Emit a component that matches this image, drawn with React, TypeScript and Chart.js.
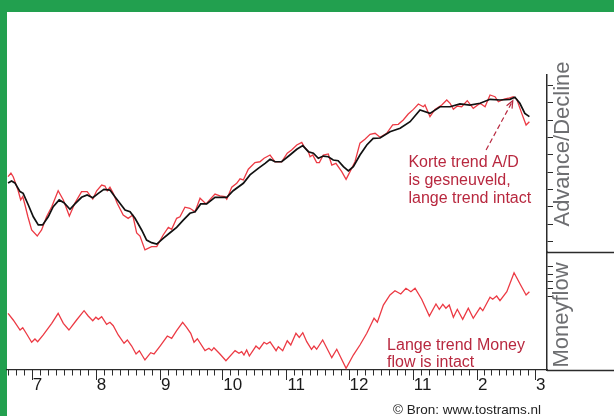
import React, { useEffect, useRef } from 'react';
import { Chart, registerables } from 'chart.js';

Chart.register(...registerables);

// x axis: days counted from 1 July; month starts and their labels
const monthStarts = [-30, 0, 31, 62, 92, 123, 153, 184, 215, 243, 274];
const labelledMonthStarts = [0, 31, 62, 92, 123, 153, 184, 215, 243];
const monthLabels = ['7', '8', '9', '10', '11', '12', '11', '2', '3'];

// Advance/Decline (red, raw)
const adRedDays = [
  -11.4, -10.0, -8.9, -6.6, -5.3, -4.3, -3.2, -1.8, 0, 2.7,
  4.8, 7.2, 9.7, 12.8, 15.3, 18.2, 20.9, 24.1, 26.8, 29.5,
  31.4, 33.8, 35.4, 36.5, 37.8, 39.4, 41.3, 44.2, 46.6, 48.8,
  50.7, 52.3, 54.7, 57.9, 60.4, 63.5, 66.0, 67.6, 70.0, 71.6,
  74.0, 76.4, 78.9, 81.3, 84.2, 88.5, 90.9, 93.3, 94.2, 96.6,
  99.0, 100.6, 102.2, 104.6, 107.8, 110.2, 112.2, 115.1, 117.5, 120.7,
  123.4, 125.5, 128.0, 130.4, 131.5, 133.6, 134.4, 135.7, 137.6, 138.9,
  140.8, 143.2, 144.9, 146.9, 149.7, 151.8, 153.7, 156.1, 158.5, 160.9,
  163.4, 165.8, 168.2, 171.4, 174.3, 177.0, 179.4, 181.8, 184.3, 186.7,
  189.1, 189.9, 192.3, 194.7, 198.0, 200.4, 202.0, 203.6, 205.5, 207.6,
  210.3, 213.2, 216.5, 218.9, 221.3, 223.7, 225.3, 227.7, 230.1, 232.5,
  234.2, 236.6, 238.7, 240.3,
];
const adRedValues = [
  47.4, 49.5, 47.4, 39.7, 34.0, 35.9, 31.1, 24.3, 16.7, 13.2,
  16.7, 24.3, 30.1, 39.3, 34.0, 24.7, 32.2, 38.8, 38.8, 34.5,
  39.3, 42.6, 42.0, 39.3, 41.3, 37.8, 32.1, 25.3, 23.4, 25.3,
  15.0, 13.2, 5.2, 7.1, 7.1, 13.8, 18.2, 17.1, 23.4, 24.3,
  29.8, 29.2, 27.2, 35.0, 31.7, 37.4, 36.3, 35.9, 34.4, 41.3,
  43.6, 46.2, 45.5, 51.7, 55.5, 56.0, 58.0, 59.9, 56.0, 56.0,
  60.9, 62.8, 65.7, 67.2, 64.7, 61.8, 58.9, 59.9, 55.5, 55.5,
  59.9, 60.5, 54.1, 55.1, 50.3, 45.9, 50.3, 56.0, 66.7, 69.0,
  71.8, 72.4, 70.1, 72.4, 77.2, 77.6, 80.1, 83.5, 86.2, 89.3,
  87.7, 88.7, 82.0, 86.2, 88.7, 91.6, 89.7, 86.2, 88.1, 87.7,
  91.2, 86.8, 89.7, 87.7, 94.5, 93.5, 90.6, 92.0, 92.6, 93.5,
  92.0, 83.9, 77.2, 79.1,
];

// Advance/Decline trend (black, smoothed)
const adBlackDays = [
  -11.4, -9.7, -8.1, -5.6, -4.1, -1.6, 0.8, 3.2, 5.3, 8.0,
  10.4, 13.3, 15.6, 18.5, 20.9, 24.1, 26.8, 29.5, 32.2, 34.9,
  37.8, 40.2, 42.6, 45.1, 47.5, 49.9, 53.1, 55.5, 57.9, 60.4,
  63.5, 66.8, 70.0, 73.2, 76.4, 78.9, 81.6, 84.5, 88.5, 94.2,
  97.3, 102.2, 105.4, 109.4, 112.7, 115.1, 117.5, 120.7, 124.7, 128.0,
  130.9, 133.6, 136.0, 138.4, 140.8, 143.2, 145.6, 148.0, 150.5, 152.9,
  155.3, 158.5, 161.8, 164.9, 168.2, 173.0, 177.9, 182.7, 187.5, 192.3,
  197.2, 202.0, 206.8, 211.6, 216.5, 221.3, 226.1, 230.9, 233.3, 235.7,
  238.1, 240.3,
];
const adBlackValues = [
  43.8, 44.9, 43.8, 38.8, 37.8, 31.1, 24.3, 19.6, 19.6, 24.3,
  30.1, 34.0, 32.4, 28.6, 31.7, 35.5, 36.9, 35.3, 37.8, 40.1,
  39.7, 35.9, 32.1, 28.2, 27.2, 23.4, 16.7, 10.9, 9.4, 8.6,
  11.9, 15.1, 18.2, 22.4, 26.3, 27.2, 31.7, 31.7, 35.5, 35.5,
  39.3, 43.6, 48.4, 52.2, 55.1, 57.4, 56.0, 56.0, 59.9, 63.2,
  65.3, 61.8, 60.9, 58.0, 59.3, 58.9, 57.0, 56.6, 53.2, 50.7,
  53.2, 59.9, 65.7, 69.5, 69.7, 73.3, 75.3, 79.1, 85.8, 83.9,
  87.7, 87.7, 89.3, 88.7, 89.7, 92.0, 91.6, 92.0, 93.2, 89.7,
  83.9, 82.0,
];

// Moneyflow (red)
const mfDays = [
  -11.4, -8.9, -5.6, -4.3, -2.4, 0, 1.6, 2.9, 5.6, 9.7,
  12.8, 15.3, 18.0, 21.7, 25.3, 27.3, 29.5, 31.0, 32.2, 33.8,
  36.2, 37.8, 39.4, 41.8, 44.6, 46.2, 48.3, 50.4, 52.0, 54.7,
  57.5, 59.1, 62.0, 65.5, 67.6, 70.0, 72.9, 74.8, 76.8, 78.4,
  80.0, 83.7, 85.6, 86.9, 88.0, 90.9, 93.8, 98.2, 100.1, 101.4,
  102.5, 103.8, 105.1, 108.3, 109.9, 112.2, 113.5, 115.1, 118.0, 119.1,
  121.2, 123.4, 125.1, 127.6, 129.2, 130.9, 132.8, 135.1, 136.3, 137.6,
  140.5, 144.9, 147.3, 151.8, 155.3, 158.5, 161.8, 165.3, 166.9, 169.8,
  173.0, 175.4, 178.2, 180.7, 183.1, 185.1, 188.3, 192.0, 195.2, 196.8,
  198.5, 200.0, 201.6, 203.6, 205.5, 208.1, 210.8, 213.2, 216.5, 217.8,
  221.3, 222.6, 224.5, 226.1, 229.4, 232.9, 235.8, 238.7, 240.3,
];
const mfValues = [
  76.9, 67.8, 54.2, 57.4, 48.8, 37.6, 42.0, 38.4, 47.5, 63.3,
  76.9, 63.3, 54.2, 67.8, 80.4, 73.2, 66.8, 71.5, 68.7, 72.3,
  62.0, 64.7, 60.1, 47.5, 36.2, 40.7, 32.5, 21.7, 26.2, 13.6,
  23.5, 21.7, 32.5, 46.1, 43.0, 53.3, 64.7, 57.9, 49.8, 37.6,
  42.4, 26.2, 29.4, 26.2, 30.2, 21.7, 12.6, 26.2, 22.6, 24.8,
  20.3, 27.1, 19.0, 32.5, 28.5, 37.6, 35.3, 38.0, 26.2, 31.6,
  26.2, 39.7, 33.9, 49.8, 44.3, 50.6, 38.4, 28.1, 32.5, 28.1,
  40.7, 16.7, 28.1, 2.3, 20.3, 33.9, 49.8, 70.1, 64.7, 88.1,
  101.7, 107.5, 103.1, 110.8, 106.2, 110.8, 95.9, 73.2, 89.5, 82.3,
  89.1, 83.7, 88.1, 71.5, 82.3, 68.7, 83.7, 70.1, 84.5, 80.4,
  98.6, 95.9, 100.3, 94.0, 106.2, 131.9, 116.6, 101.7, 106.2,
];

// y axis ticks (no labels)
const adTicks = [10, 20, 30, 40, 50, 60, 70, 80, 90, 100];
const mfTicks = [100, 110, 120, 130, 140];

// axis titles
const adTitle = 'Advance/Decline';
const mfTitle = 'Moneyflow';

// annotations (anchored in data coordinates)
const noteADLines = ['Korte trend A/D', 'is gesneuveld,', 'lange trend intact'];
const noteADDay = 181.9;
const noteADValues = [53.0, 42.6, 32.5];
const arrowFrom = [219.4, 62.8];
const arrowTo = [232.3, 91.2];
const noteMFLines = ['Lange trend Money', 'flow is intact'];
const noteMFDay = 171.6;
const noteMFValues = [27.1, 4.1];
const sourceText = '\u00A9 Bron: www.tostrams.nl';

const GREEN = '#22a04f';
const RED = '#ec3a44';
const NOTE = '#b8283f';
const AXIS = '#2b2b2b';
const TITLE = '#6d6e71';

const decorPlugin = {
  id: 'decor',
  beforeDraw(chart: any) {
    const ctx = chart.ctx;
    ctx.save();
    ctx.fillStyle = '#ffffff';
    ctx.fillRect(0, 0, chart.width, chart.height);
    ctx.fillStyle = GREEN;
    ctx.fillRect(0, 0, chart.width, 12);
    ctx.fillRect(0, 0, 7, chart.height);
    ctx.restore();
  },
  afterDraw(chart: any) {
    const ctx = chart.ctx;
    const x = chart.scales.x;
    const yA = chart.scales.yA;
    const yM = chart.scales.yM;
    ctx.save();

    // x ticks: months split in 8 parts, month starts longer
    ctx.strokeStyle = AXIS;
    ctx.lineWidth = 1;
    const base = x.top;
    const lastLabelled = labelledMonthStarts[labelledMonthStarts.length - 1];
    for (let i = 0; i < monthStarts.length - 1; i++) {
      const s = monthStarts[i];
      const e = monthStarts[i + 1];
      for (let k = 0; k < 8; k++) {
        const d = s + ((e - s) * k) / 8;
        if (d < x.min || d > lastLabelled) continue;
        const px = Math.round(x.getPixelForValue(d)) + 0.5;
        const len = k === 0 ? 10 : 5.5;
        ctx.beginPath();
        ctx.moveTo(px, base);
        ctx.lineTo(px, base + len);
        ctx.stroke();
      }
    }

    // separator lines in the right column
    ctx.strokeStyle = AXIS;
    ctx.lineWidth = 1.3;
    const sepY = Math.round(yA.bottom) + 0.5;
    ctx.beginPath();
    ctx.moveTo(yA.left, sepY);
    ctx.lineTo(chart.width, sepY);
    ctx.stroke();
    const botY = Math.round(x.top) + 0.5;
    ctx.beginPath();
    ctx.moveTo(yM.left, botY);
    ctx.lineTo(chart.width, botY);
    ctx.stroke();

    // axis titles, rotated
    ctx.fillStyle = TITLE;
    ctx.font = '22px "Liberation Sans", Arial, sans-serif';
    ctx.textAlign = 'center';
    ctx.textBaseline = 'alphabetic';
    ctx.save();
    ctx.translate(yA.left + 22, yA.top + 69);
    ctx.rotate(-Math.PI / 2);
    ctx.fillText(adTitle, 0, 0);
    ctx.restore();
    ctx.save();
    ctx.translate(yM.left + 21, yM.top + 63);
    ctx.rotate(-Math.PI / 2);
    ctx.fillText(mfTitle, 0, 0);
    ctx.restore();

    // annotations
    ctx.fillStyle = NOTE;
    ctx.font = '16px "Liberation Sans", Arial, sans-serif';
    ctx.textAlign = 'left';
    const ax = x.getPixelForValue(noteADDay);
    noteADLines.forEach((t, i) => ctx.fillText(t, ax, yA.getPixelForValue(noteADValues[i])));
    const mx = x.getPixelForValue(noteMFDay);
    noteMFLines.forEach((t, i) => ctx.fillText(t, mx, yM.getPixelForValue(noteMFValues[i])));

    // dashed arrow
    const x0 = x.getPixelForValue(arrowFrom[0]);
    const y0 = yA.getPixelForValue(arrowFrom[1]);
    const x1 = x.getPixelForValue(arrowTo[0]);
    const y1 = yA.getPixelForValue(arrowTo[1]);
    ctx.strokeStyle = NOTE;
    ctx.lineWidth = 1.2;
    ctx.setLineDash([5, 3]);
    ctx.beginPath();
    ctx.moveTo(x0, y0);
    ctx.lineTo(x1, y1);
    ctx.stroke();
    ctx.setLineDash([]);
    const ang = Math.atan2(y1 - y0, x1 - x0);
    const hl = 8;
    ctx.beginPath();
    ctx.moveTo(x1 - hl * Math.cos(ang - 0.4), y1 - hl * Math.sin(ang - 0.4));
    ctx.lineTo(x1, y1);
    ctx.lineTo(x1 - hl * Math.cos(ang + 0.4), y1 - hl * Math.sin(ang + 0.4));
    ctx.stroke();

    // source
    ctx.fillStyle = '#222';
    ctx.font = '13.5px "Liberation Sans", Arial, sans-serif';
    ctx.textAlign = 'right';
    ctx.fillText(sourceText, 541, 414);

    ctx.restore();
  },
};

export default function App() {
  const ref = useRef<HTMLCanvasElement | null>(null);

  useEffect(() => {
    if (!ref.current) return;
    const chart = new Chart(ref.current, {
      type: 'line',
      data: {
        datasets: [
          {
            label: 'A/D trend',
            data: adBlackDays.map((d, i) => ({ x: d, y: adBlackValues[i] })),
            borderColor: '#111111',
            borderWidth: 1.7,
            yAxisID: 'yA',
          },
          {
            label: 'A/D',
            data: adRedDays.map((d, i) => ({ x: d, y: adRedValues[i] })),
            borderColor: RED,
            borderWidth: 1.3,
            yAxisID: 'yA',
          },
          {
            label: 'Moneyflow',
            data: mfDays.map((d, i) => ({ x: d, y: mfValues[i] })),
            borderColor: RED,
            borderWidth: 1.3,
            yAxisID: 'yM',
          },
        ],
      },
      options: {
        animation: false,
        responsive: false,
        maintainAspectRatio: false,
        devicePixelRatio: 1,
        layout: { padding: { left: 7, top: 75, right: 0, bottom: 0 } },
        plugins: { legend: { display: false }, tooltip: { enabled: false }, title: { display: false } },
        elements: { point: { radius: 0 }, line: { tension: 0, fill: false } },
        scales: {
          x: {
            type: 'linear',
            position: 'bottom',
            min: -11.9,
            max: 248.8,
            afterBuildTicks: (s: any) => {
              s.ticks = labelledMonthStarts.map((v) => ({ value: v }));
            },
            afterFit: (s: any) => {
              s.height = 46;
            },
            grid: { display: true, drawOnChartArea: false, drawTicks: false },
            border: { display: true, color: AXIS, width: 1.3 },
            ticks: {
              align: 'start',
              labelOffset: 1,
              padding: 5,
              color: '#1a1a1a',
              autoSkip: false,
              maxRotation: 0,
              font: { family: '"Liberation Sans Narrow", "Liberation Sans", Arial', size: 17 },
              callback: (_v: any, i: number) => monthLabels[i],
            },
          },
          yA: {
            type: 'linear',
            position: 'right',
            stack: 'panels',
            stackWeight: 1.5,
            min: 4,
            max: 106,
            afterBuildTicks: (s: any) => {
              s.ticks = adTicks.map((v) => ({ value: v }));
            },
            afterFit: (s: any) => {
              s.width = 67;
            },
            grid: { display: true, drawOnChartArea: false, drawTicks: true, tickLength: 6, tickColor: AXIS, color: AXIS },
            border: { display: true, color: AXIS, width: 1.5 },
            ticks: { display: false },
          },
          yM: {
            type: 'linear',
            position: 'right',
            stack: 'panels',
            stackWeight: 1,
            min: 0,
            max: 160,
            afterBuildTicks: (s: any) => {
              s.ticks = mfTicks.map((v) => ({ value: v }));
            },
            afterFit: (s: any) => {
              s.width = 67;
            },
            grid: { display: true, drawOnChartArea: false, drawTicks: true, tickLength: 6, tickColor: AXIS, color: AXIS },
            border: { display: true, color: AXIS, width: 1.5 },
            ticks: { display: false },
          },
        },
      } as any,
      plugins: [decorPlugin],
    });
    return () => chart.destroy();
  }, []);

  return (
    <div style={{ position: 'absolute', left: 0, top: 0, width: 614, height: 416, background: '#fff' }}>
      <canvas ref={ref} width={614} height={416} style={{ display: 'block', width: 614, height: 416 }} />
    </div>
  );
}
